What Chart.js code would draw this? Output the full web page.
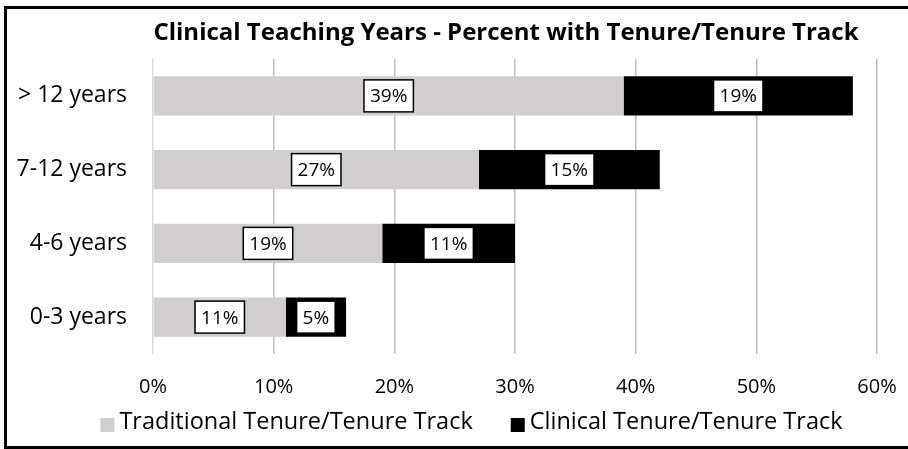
<!DOCTYPE html>
<html>
<head>
<meta charset="utf-8">
<script src="https://cdn.jsdelivr.net/npm/chart.js@4.4.1/dist/chart.umd.min.js"></script>
<style>
  body { margin: 0; background: #fff; }
  canvas { display: block; }
</style>
</head>
<body>
<canvas id="Chart_Tenure" width="908" height="449"></canvas>
<script>
// data
var categories = ['> 12 years', '7-12 years', '4-6 years', '0-3 years'];
var traditional = [39, 27, 19, 11];
var clinical = [19, 15, 11, 5];
var xTicks = [0, 10, 20, 30, 40, 50, 60];
var seriesNames = ['Traditional Tenure/Tenure Track', 'Clinical Tenure/Tenure Track'];
var seriesColors = ['#d0cece', '#000000'];
var titleText = 'Clinical Teaching Years - Percent with Tenure/Tenure Track';

Chart.defaults.font.family = '"Open Sans"';
Chart.defaults.color = '#000';

// outer frame, title (centred a bit right, like Excel did) and legend
var framePlugin = {
    id: 'frame',
    beforeDraw: function (chart) {
        var c = chart.ctx;
        c.save();
        c.fillStyle = '#fff';
        c.fillRect(0, 0, chart.width, chart.height);
        c.restore();
    },
    afterDraw: function (chart) {
        var c = chart.ctx;
        c.save();
        c.strokeStyle = '#000';
        c.lineWidth = 3;
        c.strokeRect(5.5, 7.5, 912, 440);   // right edge runs off the canvas like the original

        // title
        c.fillStyle = '#000';
        c.font = 'bold 24px "Open Sans"';
        c.textAlign = 'center';
        c.textBaseline = 'middle';
        c.fillText(titleText, 506, 33);

        // legend
        c.font = '23.5px "Open Sans"';
        c.textAlign = 'left';
        var box = 14, gapTxt = 5, gapItem = 38;
        var widths = seriesNames.map(function (n) { return box + gapTxt + c.measureText(n).width; });
        var total = widths[0] + gapItem + widths[1];
        var x = 471.5 - total / 2, y = 422;
        chart.data.datasets.forEach(function (ds, i) {
            c.fillStyle = ds.backgroundColor;
            c.fillRect(x, y - 4, box, box);
            c.fillStyle = '#000';
            c.fillText(ds.label, x + box + gapTxt, y);
            x += widths[i] + gapItem;
        });
        c.restore();
    }
};

// boxed value labels in the middle of each segment
var boxLabels = {
    id: 'boxLabels',
    afterDatasetsDraw: function (chart) {
        var c = chart.ctx;
        c.save();
        c.font = '19px "Open Sans"';
        c.textAlign = 'center';
        c.textBaseline = 'middle';
        chart.data.datasets.forEach(function (ds, i) {
            var meta = chart.getDatasetMeta(i);
            meta.data.forEach(function (el, j) {
                var txt = ds.data[j] + '%';
                var cx = (el.x + el.base) / 2;
                var cy = el.y;
                var w = c.measureText(txt).width + 12;
                var h = 32;
                c.fillStyle = '#fff';
                c.fillRect(cx - w / 2, cy - h / 2, w, h);
                c.strokeStyle = '#000';
                c.lineWidth = 1.5;
                c.strokeRect(cx - w / 2, cy - h / 2, w, h);
                c.fillStyle = '#000';
                c.fillText(txt, cx, cy + 1);
            });
        });
        c.restore();
    }
};

var ctx = document.getElementById('Chart_Tenure');

var chart = new Chart(ctx, {
    type: 'bar',
    data: {
        labels: categories,
        datasets: [
            { label: seriesNames[0], data: traditional, backgroundColor: seriesColors[0], borderWidth: 0,
              barPercentage: 0.53, categoryPercentage: 1 },
            { label: seriesNames[1], data: clinical, backgroundColor: seriesColors[1], borderWidth: 0,
              barPercentage: 0.53, categoryPercentage: 1 }
        ]
    },
    options: {
        indexAxis: 'y',
        responsive: false,
        animation: false,
        layout: { padding: { left: 12, right: 31, top: 59, bottom: 49 } },
        scales: {
            x: {
                stacked: true,
                min: 0,
                max: 60,
                afterBuildTicks: function (s) { s.ticks = xTicks.map(function (v) { return { value: v }; }); },
                afterFit: function (s) { s.height = 46; s.paddingLeft = 0; s.paddingRight = 0; },
                grid: {
                    drawTicks: false,
                    color: function (c) { return c.tick && c.tick.value === 0 ? '#d9d9d9' : '#bfbfbf'; },
                    lineWidth: 1.5
                },
                border: { display: false },
                ticks: {
                    padding: 21,
                    font: { size: 20 },
                    callback: function (v) { return v + '%'; }
                }
            },
            y: {
                stacked: true,
                afterFit: function (s) { s.width = 141; },
                grid: { display: false, drawTicks: false },
                border: { display: false },
                ticks: { padding: 26, font: { size: 23 } }
            }
        },
        plugins: {
            title: { display: false },
            legend: { display: false },
            tooltip: { enabled: false }
        }
    },
    plugins: [framePlugin, boxLabels]
});
</script>
</body>
</html>
